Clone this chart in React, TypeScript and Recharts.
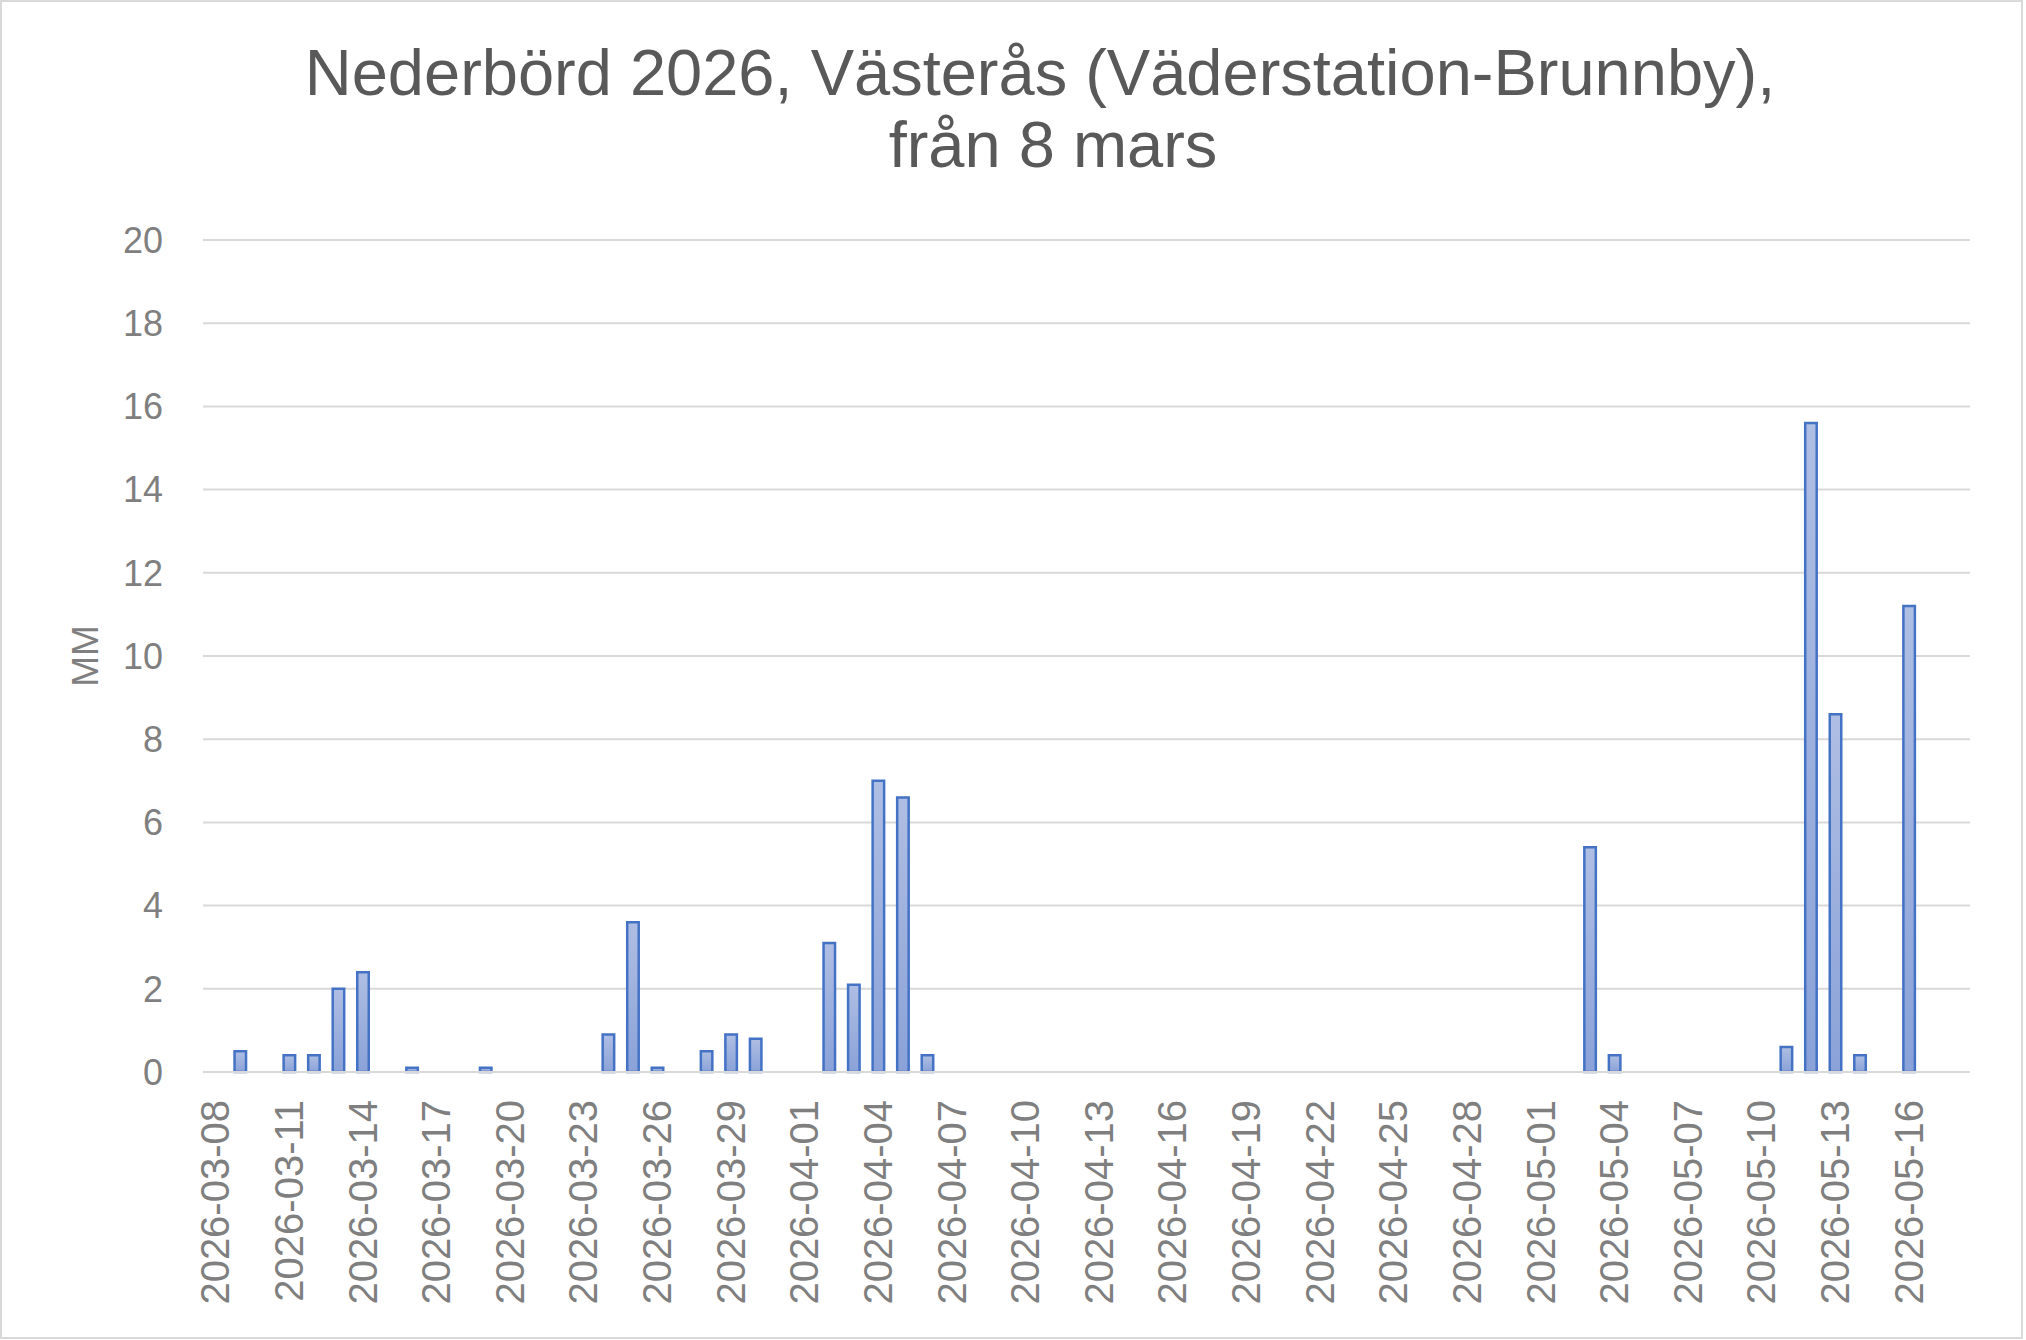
import React from 'react'
import { BarChart, Bar, XAxis, YAxis, CartesianGrid, Label } from 'recharts'

const titleLines = ['Nederbörd 2026, Västerås (Väderstation-Brunnby),', 'från 8 mars']
const yAxisTitle = 'MM'

const dates = [
  '2026-03-08', '2026-03-09', '2026-03-10', '2026-03-11', '2026-03-12', '2026-03-13',
  '2026-03-14', '2026-03-15', '2026-03-16', '2026-03-17', '2026-03-18', '2026-03-19',
  '2026-03-20', '2026-03-21', '2026-03-22', '2026-03-23', '2026-03-24', '2026-03-25',
  '2026-03-26', '2026-03-27', '2026-03-28', '2026-03-29', '2026-03-30', '2026-03-31',
  '2026-04-01', '2026-04-02', '2026-04-03', '2026-04-04', '2026-04-05', '2026-04-06',
  '2026-04-07', '2026-04-08', '2026-04-09', '2026-04-10', '2026-04-11', '2026-04-12',
  '2026-04-13', '2026-04-14', '2026-04-15', '2026-04-16', '2026-04-17', '2026-04-18',
  '2026-04-19', '2026-04-20', '2026-04-21', '2026-04-22', '2026-04-23', '2026-04-24',
  '2026-04-25', '2026-04-26', '2026-04-27', '2026-04-28', '2026-04-29', '2026-04-30',
  '2026-05-01', '2026-05-02', '2026-05-03', '2026-05-04', '2026-05-05', '2026-05-06',
  '2026-05-07', '2026-05-08', '2026-05-09', '2026-05-10', '2026-05-11', '2026-05-12',
  '2026-05-13', '2026-05-14', '2026-05-15', '2026-05-16', '2026-05-17', '2026-05-18',
]

// mm per dag, samma ordning som dates
const rainMm = [
  0, 0.5, 0, 0.4, 0.4, 2.0,
  2.4, 0, 0.1, 0, 0, 0.1,
  0, 0, 0, 0, 0.9, 3.6,
  0.1, 0, 0.5, 0.9, 0.8, 0,
  0, 3.1, 2.1, 7.0, 6.6, 0.4,
  0, 0, 0, 0, 0, 0,
  0, 0, 0, 0, 0, 0,
  0, 0, 0, 0, 0, 0,
  0, 0, 0, 0, 0, 0,
  0, 0, 5.4, 0.4, 0, 0,
  0, 0, 0, 0, 0.6, 15.6,
  8.6, 0.4, 0, 11.2, 0, 0,
]

const yTicks = [0, 2, 4, 6, 8, 10, 12, 14, 16, 18, 20]

const data = dates.map((date, i) => ({ date, mm: rainMm[i] }))

const FONT = '"Liberation Sans", Arial, sans-serif'
const TICK_COLOR = '#7f7f7f'
const TITLE_COLOR = '#595959'

const DateTick = ({ x, y, payload }: any) => (
  <text
    x={x + 14}
    y={y + 28}
    transform={`rotate(-90, ${x + 14}, ${y + 28})`}
    textAnchor="end"
    fontSize={40}
    fontFamily={FONT}
    fill={TICK_COLOR}
  >
    {payload.value}
  </text>
)

const AxisTitle = ({ viewBox }: any) => {
  const cx = viewBox.x + 15
  const cy = viewBox.y + viewBox.height / 2
  return (
    <text
      x={cx}
      y={cy}
      transform={`rotate(-90, ${cx}, ${cy})`}
      textAnchor="middle"
      fontSize={37}
      fontFamily={FONT}
      fill={TICK_COLOR}
    >
      {yAxisTitle}
    </text>
  )
}

export default function App() {
  return (
    <div style={{ position: 'fixed', left: 0, top: 0, width: 2026, height: 1340, background: '#fff' }}>
      <div
        style={{
          position: 'absolute', left: 0, top: 0, width: 2023, height: 1339,
          border: '2px solid #d9d9d9', boxSizing: 'border-box',
        }}
      />
      <BarChart
        width={2026}
        height={1340}
        data={data}
        margin={{ top: 240, right: 56, left: 83, bottom: 0 }}
        barSize={11.5}
      >
        <defs>
          <linearGradient id="rainFill" x1="0" y1="0" x2="0" y2="1">
            <stop offset="0%" stopColor="#afbee3" />
            <stop offset="100%" stopColor="#8aa2d8" />
          </linearGradient>
        </defs>
        <CartesianGrid vertical={false} stroke="#d9d9d9" strokeWidth={2} />
        <XAxis
          dataKey="date"
          interval={2}
          height={268}
          tickLine={false}
          tickSize={0}
          tickMargin={0}
          axisLine={{ stroke: '#d9d9d9', strokeWidth: 2 }}
          tick={<DateTick />}
        />
        <YAxis
          width={120}
          domain={[0, 20]}
          ticks={yTicks}
          interval={0}
          tickLine={false}
          axisLine={false}
          tickSize={0}
          tickMargin={40}
          tick={{ fontSize: 36, fontFamily: FONT, fill: TICK_COLOR }}
        >
          <Label content={<AxisTitle />} />
        </YAxis>
        <Bar
          dataKey="mm"
          fill="url(#rainFill)"
          stroke="#4472c4"
          strokeWidth={2.5}
          isAnimationActive={false}
        />
      </BarChart>
      <svg
        width={2026}
        height={200}
        style={{ position: 'absolute', left: 0, top: 0, pointerEvents: 'none' }}
      >
        <text x={1040} y={95} textAnchor="middle" fontSize={65} fontFamily={FONT} fill={TITLE_COLOR}>
          {titleLines[0]}
        </text>
        <text x={1053} y={167} textAnchor="middle" fontSize={65} fontFamily={FONT} fill={TITLE_COLOR}>
          {titleLines[1]}
        </text>
      </svg>
    </div>
  )
}
